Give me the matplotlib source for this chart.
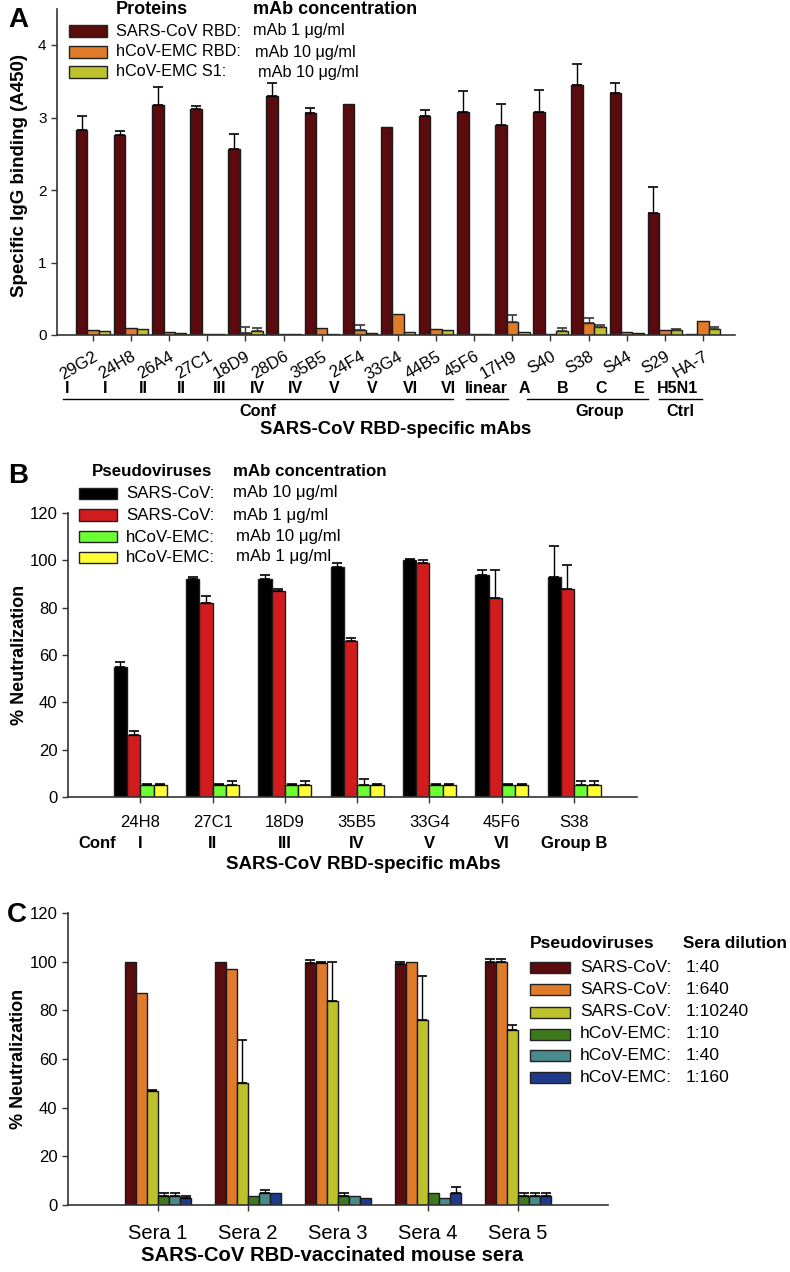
import matplotlib
matplotlib.use('Agg')
import matplotlib.pyplot as plt
from matplotlib.patches import Rectangle
import numpy as np

plt.rcParams['font.family'] = ['Liberation Sans', 'DejaVu Sans']
plt.rcParams['font.size'] = 12

# ---------------- data ----------------
# Panel A: ELISA binding
mabs_a = ['29G2', '24H8', '26A4', '27C1', '18D9', '28D6', '35B5', '24F4', '33G4',
          '44B5', '45F6', '17H9', 'S40', 'S38', 'S44', 'S29', 'HA-7']
epitopes_a = ['I', 'I', 'II', 'II', 'III', 'IV', 'IV', 'V', 'V', 'VI', 'VI',
              'linear', 'A', 'B', 'C', 'E', 'H5N1']
sars_rbd = [2.83, 2.76, 3.17, 3.12, 2.57, 3.29, 3.06, 3.19, 2.87, 3.02, 3.07,
            2.90, 3.07, 3.45, 3.34, 1.68, 0.01]
sars_rbd_err = [0.19, 0.06, 0.25, 0.04, 0.20, 0.19, 0.07, 0, 0, 0.09, 0.29,
                0.28, 0.31, 0.29, 0.13, 0.36, 0]
emc_rbd = [0.07, 0.10, 0.04, 0.02, 0.03, 0.02, 0.09, 0.07, 0.29, 0.08, 0.02,
           0.18, 0.01, 0.165, 0.04, 0.07, 0.20]
emc_rbd_err = [0, 0, 0, 0, 0.08, 0, 0, 0.07, 0, 0, 0, 0.10, 0, 0.07, 0, 0, 0]
emc_s1 = [0.055, 0.085, 0.03, 0.02, 0.05, 0.02, 0.02, 0.03, 0.046, 0.07, 0.02,
          0.04, 0.06, 0.115, 0.03, 0.07, 0.083]
emc_s1_err = [0, 0, 0, 0, 0.05, 0, 0, 0, 0, 0, 0, 0, 0.03, 0.025, 0, 0.017, 0.027]

# Panel B: neutralization by mAbs
mabs_b = ['24H8', '27C1', '18D9', '35B5', '33G4', '45F6', 'S38']
epitopes_b = ['I', 'II', 'III', 'IV', 'V', 'VI', 'Group B']
sars_10 = [55, 92, 92, 97, 100, 94, 93]
sars_10_err = [2, 1, 2, 2, 0.5, 2, 13]
sars_1 = [26, 82, 87, 66, 99, 84, 88]
sars_1_err = [2, 3, 1, 1, 1, 12, 10]
emc_10 = [5, 5, 5, 5, 5, 5, 5]
emc_10_err = [0.7, 0.7, 0.7, 2.6, 0.7, 0.7, 1.6]
emc_1 = [5, 5, 5, 5, 5, 5, 5]
emc_1_err = [0.7, 1.8, 1.8, 0.7, 0.7, 0.7, 1.6]

# Panel C: neutralization by mouse sera
sera = ['Sera 1', 'Sera 2', 'Sera 3', 'Sera 4', 'Sera 5']
sars_40 = [100, 100, 99.5, 99, 100]
sars_40_err = [0, 0, 1, 1, 1]
sars_640 = [87, 97, 99.5, 100, 100]
sars_640_err = [0, 0, 0.5, 0, 1]
sars_10240 = [47, 50, 84, 76, 72]
sars_10240_err = [0.3, 18, 16, 18, 2]
emc_d10 = [3.5, 3.5, 3.5, 5, 3.5]
emc_d10_err = [1.3, 0, 1.3, 0, 1.3]
emc_d40 = [3.5, 5, 3.5, 2.8, 3.5]
emc_d40_err = [1.3, 1, 0, 0, 1.3]
emc_d160 = [2.8, 5, 2.8, 5, 3.5]
emc_d160_err = [0.9, 0, 0, 2.3, 1.3]

# ---------------- helpers ----------------
W, H = 790, 1272
fig = plt.figure(figsize=(W / 100, H / 100), dpi=100)


def axes_px(l, t, r, b):
    return fig.add_axes([l / W, 1 - b / H, (r - l) / W, (b - t) / H])


def ftext(x, y, s, **kw):
    kw.setdefault('va', 'center')
    kw.setdefault('ha', 'left')
    fig.text(x / W, 1 - y / H, s, **kw)


def fpatch(x0, x1, y, h, color):
    fig.add_artist(Rectangle((x0 / W, 1 - (y + h / 2) / H), (x1 - x0) / W, h / H,
                             transform=fig.transFigure, facecolor=color,
                             edgecolor='#222222', lw=1))


def style(ax):
    for s in ['top', 'right']:
        ax.spines[s].set_visible(False)
    for s in ['left', 'bottom']:
        ax.spines[s].set_linewidth(1.2)
        ax.spines[s].set_color('#333333')
    ax.tick_params(direction='out', length=4, width=1, color='#333333')


def bars(ax, x, vals, errs, color, width, ecol='black'):
    ax.bar(x, vals, width, color=color, edgecolor='#1a1a1a', linewidth=1, zorder=2)
    errs = np.asarray(errs, dtype=float)
    m = errs > 0
    if m.any():
        ax.errorbar(np.asarray(x)[m], np.asarray(vals)[m],
                    yerr=[np.zeros(m.sum()), errs[m]], fmt='none',
                    ecolor=ecol, elinewidth=1, capsize=3.8, capthick=1.2, zorder=3)


# ---------------- Panel A ----------------
dark_red = '#5a0b0e'
orange = '#e07b2a'
olive = '#bcc12c'

axA = axes_px(57, 8.75, 735, 335)
style(axA)
xa = np.arange(len(mabs_a))
wa = 0.3
bars(axA, xa - wa, sars_rbd, sars_rbd_err, dark_red, wa)
bars(axA, xa, emc_rbd, emc_rbd_err, orange, wa, ecol='#333333')
bars(axA, xa + wa, emc_s1, emc_s1_err, olive, wa, ecol='#333333')
axA.set_xlim(-0.944, 16.84)
axA.set_ylim(0, 4.5)
axA.set_yticks([0, 1, 2, 3, 4])
axA.tick_params(axis='y', labelsize=11)
axA.set_xticks(xa)
axA.set_xticklabels(mabs_a, rotation=30, ha='right', rotation_mode='anchor')
axA.tick_params(axis='x', pad=6)
axA.set_ylabel('Specific IgG binding (A450)', fontweight='bold', fontsize=13.5)
axA.yaxis.set_label_coords(-0.043, 0.49)

tr = axA.get_xaxis_transform()
for i, e in enumerate(epitopes_a):
    axA.text(i - 0.68, -0.163, e, transform=tr, ha='center', va='center',
             fontweight='bold', fontsize=11.5)
for x0, x1 in [(-0.79, 9.44), (9.78, 10.88), (11.38, 14.56), (14.84, 15.97)]:
    axA.plot([x0, x1], [-0.196, -0.196], transform=tr, color='black', lw=1,
             clip_on=False)
for xc, s in [(4.33, 'Conf'), (13.3, 'Group'), (15.4, 'Ctrl')]:
    axA.text(xc, -0.236, s, transform=tr, ha='center', va='center',
             fontweight='bold', fontsize=11.7)
axA.text(7.95, -0.291, 'SARS-CoV RBD-specific mAbs', transform=tr, ha='center',
         va='center', fontweight='bold', fontsize=13.3)

ftext(18, 20, 'A', fontweight='bold', fontsize=20, ha='center')
ftext(116, 9, 'Proteins', fontweight='bold', fontsize=13)
ftext(253, 9, 'mAb concentration', fontweight='bold', fontsize=13)
for y, c, n, v, vx in [(31, dark_red, 'SARS-CoV RBD:', 'mAb 1 μg/ml', 253),
                       (52, orange, 'hCoV-EMC RBD:', 'mAb 10 μg/ml', 255),
                       (72, olive, 'hCoV-EMC S1:', 'mAb 10 μg/ml', 258)]:
    fpatch(69, 107, y, 11, c)
    ftext(116, y, n, fontsize=11.7)
    ftext(vx, y, v, fontsize=11.7)

# ---------------- Panel B ----------------
axB = axes_px(68, 513, 637, 797)
style(axB)
xb = np.arange(len(mabs_b))
wb = 0.183
bars(axB, xb - 1.5 * wb, sars_10, sars_10_err, 'black', wb)
bars(axB, xb - 0.5 * wb, sars_1, sars_1_err, '#d01c1c', wb)
bars(axB, xb + 0.5 * wb, emc_10, emc_10_err, '#6bff33', wb)
bars(axB, xb + 1.5 * wb, emc_1, emc_1_err, '#ffff33', wb)
axB.set_xlim(-1, 6.87)
axB.set_ylim(0, 120)
axB.set_yticks(range(0, 121, 20))
axB.set_xticks(xb)
axB.set_xticklabels(mabs_b)
axB.tick_params(axis='x', pad=9)
axB.set_ylabel('% Neutralization', fontweight='bold', fontsize=13)
axB.yaxis.set_label_coords(-0.071, 0.5)
trb = axB.get_xaxis_transform()
for i, e in enumerate(epitopes_b):
    axB.text(i, -0.162, e, transform=trb, ha='center', va='center',
             fontweight='bold', fontsize=12)
axB.text(-0.6, -0.162, 'Conf', transform=trb, ha='center', va='center',
         fontweight='bold', fontsize=12)
axB.text(3.08, -0.239, 'SARS-CoV RBD-specific mAbs', transform=trb, ha='center',
         va='center', fontweight='bold', fontsize=13.5)

ftext(18, 476, 'B', fontweight='bold', fontsize=20, ha='center')
ftext(92, 472, 'Pseudoviruses', fontweight='bold', fontsize=12.2)
ftext(233, 472, 'mAb concentration', fontweight='bold', fontsize=12.2)
for y, c, n, v, vx in [(493, 'black', 'SARS-CoV:', 'mAb 10 μg/ml', 233),
                       (515, '#d01c1c', 'SARS-CoV:', 'mAb 1 μg/ml', 233),
                       (537, '#6bff33', 'hCoV-EMC:', 'mAb 10 μg/ml', 236),
                       (557, '#ffff33', 'hCoV-EMC:', 'mAb 1 μg/ml', 236)]:
    fpatch(79, 117, y, 11, c)
    ftext(126, y, n, fontsize=12.2)
    ftext(vx, y, v, fontsize=12.2)

# ---------------- Panel C ----------------
axC = axes_px(68, 913, 608, 1205)
style(axC)
xc = np.arange(len(sera))
wc = 0.124
c_cols = [dark_red, orange, olive, '#3e7a1c', '#4b8a8c', '#1f3a8a']
c_series = [(sars_40, sars_40_err), (sars_640, sars_640_err),
            (sars_10240, sars_10240_err), (emc_d10, emc_d10_err),
            (emc_d40, emc_d40_err), (emc_d160, emc_d160_err)]
for k, ((v, e), col) in enumerate(zip(c_series, c_cols)):
    bars(axC, xc + (k - 2.5) * wc, v, e, col, wc)
axC.set_xlim(-1, 5)
axC.set_ylim(0, 120)
axC.set_yticks(range(0, 121, 20))
axC.set_xticks(xc)
axC.set_xticklabels(sera, fontsize=14.5)
axC.tick_params(axis='x', pad=10)
axC.set_ylabel('% Neutralization', fontweight='bold', fontsize=13)
axC.yaxis.set_label_coords(-0.075, 0.5)
axC.text(1.93, -0.172, 'SARS-CoV RBD-vaccinated mouse sera',
         transform=axC.get_xaxis_transform(), ha='center', va='center',
         fontweight='bold', fontsize=14.6)

ftext(17, 915, 'C', fontweight='bold', fontsize=20, ha='center')
ftext(530, 943, 'Pseudoviruses', fontweight='bold', fontsize=12.6)
ftext(683, 943, 'Sera dilution', fontweight='bold', fontsize=12.3)
c_names = ['SARS-CoV:', 'SARS-CoV:', 'SARS-CoV:', 'hCoV-EMC:', 'hCoV-EMC:', 'hCoV-EMC:']
c_dil = ['1:40', '1:640', '1:10240', '1:10', '1:40', '1:160']
for k, y in enumerate([967, 989, 1012, 1034, 1055, 1077]):
    fpatch(530, 570, y, 11, c_cols[k])
    ftext(580, y, c_names[k], fontsize=12.6)
    ftext(686, y, c_dil[k], fontsize=12.6)

fig.savefig('out.png', dpi=100)
